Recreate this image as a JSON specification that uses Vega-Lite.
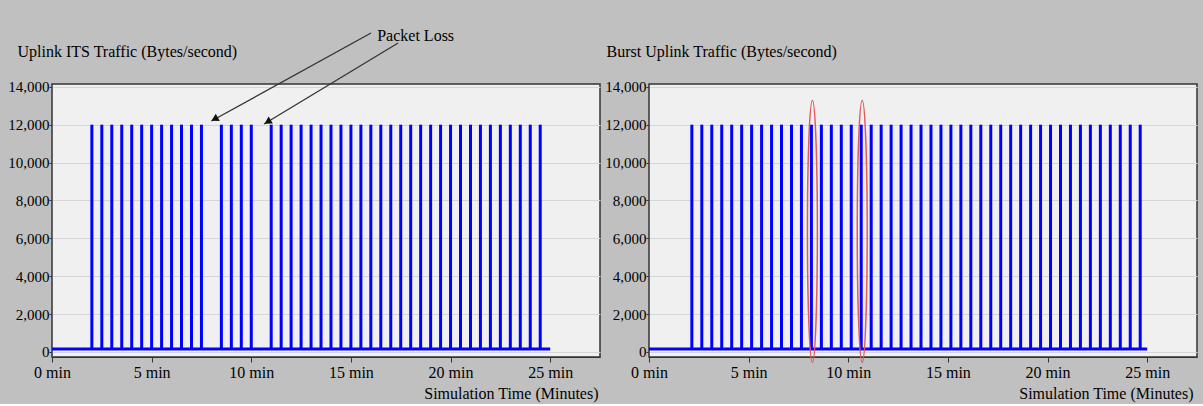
{
  "$schema": "https://vega.github.io/schema/vega-lite/v6.json",
  "autosize": {"type": "pad"},
  "padding": {"left": 7, "top": 27, "right": 6, "bottom": 2},
  "background": "#c0c0c0",
  "spacing": 49,
  "bounds": "flush",
  "config": {
    "font": "Liberation Serif",
    "view": {"fill": "#f0f0f0", "stroke": "#333333", "strokeWidth": 1.5},
    "axis": {
      "labelFont": "Liberation Serif",
      "titleFont": "Liberation Serif",
      "labelFontSize": 16,
      "titleFontSize": 16,
      "titleFontWeight": "normal",
      "labelColor": "#000000",
      "titleColor": "#000000",
      "tickColor": "#333333",
      "domainColor": "#333333",
      "labelOverlap": false
    }
  },
  "datasets": {
    "left": [
      {"t": 2, "v": 12000}, {"t": 2.5, "v": 12000}, {"t": 3, "v": 12000}, {"t": 3.5, "v": 12000},
      {"t": 4, "v": 12000}, {"t": 4.5, "v": 12000}, {"t": 5, "v": 12000}, {"t": 5.5, "v": 12000},
      {"t": 6, "v": 12000}, {"t": 6.5, "v": 12000}, {"t": 7, "v": 12000}, {"t": 7.5, "v": 12000},
      {"t": 8.5, "v": 12000}, {"t": 9, "v": 12000}, {"t": 9.5, "v": 12000}, {"t": 10, "v": 12000},
      {"t": 11, "v": 12000}, {"t": 11.5, "v": 12000}, {"t": 12, "v": 12000}, {"t": 12.5, "v": 12000},
      {"t": 13, "v": 12000}, {"t": 13.5, "v": 12000}, {"t": 14, "v": 12000}, {"t": 14.5, "v": 12000},
      {"t": 15, "v": 12000}, {"t": 15.5, "v": 12000}, {"t": 16, "v": 12000}, {"t": 16.5, "v": 12000},
      {"t": 17, "v": 12000}, {"t": 17.5, "v": 12000}, {"t": 18, "v": 12000}, {"t": 18.5, "v": 12000},
      {"t": 19, "v": 12000}, {"t": 19.5, "v": 12000}, {"t": 20, "v": 12000}, {"t": 20.5, "v": 12000},
      {"t": 21, "v": 12000}, {"t": 21.5, "v": 12000}, {"t": 22, "v": 12000}, {"t": 22.5, "v": 12000},
      {"t": 23, "v": 12000}, {"t": 23.5, "v": 12000}, {"t": 24, "v": 12000}, {"t": 24.5, "v": 12000}
    ],
    "right": [
      {"t": 2.15, "v": 12000}, {"t": 2.65, "v": 12000}, {"t": 3.15, "v": 12000}, {"t": 3.65, "v": 12000},
      {"t": 4.15, "v": 12000}, {"t": 4.65, "v": 12000}, {"t": 5.15, "v": 12000}, {"t": 5.65, "v": 12000},
      {"t": 6.15, "v": 12000}, {"t": 6.65, "v": 12000}, {"t": 7.15, "v": 12000}, {"t": 7.65, "v": 12000},
      {"t": 8.15, "v": 12000}, {"t": 8.65, "v": 12000}, {"t": 9.15, "v": 12000}, {"t": 9.65, "v": 12000},
      {"t": 10.15, "v": 12000}, {"t": 10.65, "v": 12000}, {"t": 11.15, "v": 12000}, {"t": 11.65, "v": 12000},
      {"t": 12.15, "v": 12000}, {"t": 12.65, "v": 12000}, {"t": 13.15, "v": 12000}, {"t": 13.65, "v": 12000},
      {"t": 14.15, "v": 12000}, {"t": 14.65, "v": 12000}, {"t": 15.15, "v": 12000}, {"t": 15.65, "v": 12000},
      {"t": 16.15, "v": 12000}, {"t": 16.65, "v": 12000}, {"t": 17.15, "v": 12000}, {"t": 17.65, "v": 12000},
      {"t": 18.15, "v": 12000}, {"t": 18.65, "v": 12000}, {"t": 19.15, "v": 12000}, {"t": 19.65, "v": 12000},
      {"t": 20.15, "v": 12000}, {"t": 20.65, "v": 12000}, {"t": 21.15, "v": 12000}, {"t": 21.65, "v": 12000},
      {"t": 22.15, "v": 12000}, {"t": 22.65, "v": 12000}, {"t": 23.15, "v": 12000}, {"t": 23.65, "v": 12000},
      {"t": 24.15, "v": 12000}, {"t": 24.65, "v": 12000}
    ],
    "baseline": [{"t": 0, "t2": 25, "v": 150}],
    "arrows": [
      {"t": 16.01, "v": 16844, "t2": 8.0, "v2": 12196},
      {"t": 17.37, "v": 16316, "t2": 10.64, "v2": 12037}
    ],
    "heads": [
      {"t": 8.16, "v": 12296, "a": 241},
      {"t": 10.82, "v": 12148, "a": 239}
    ],
    "label": [{"t": 16.32, "v": 16421, "text": "Packet Loss"}],
    "ellipses": [{"t": 8.2, "v": 6360}, {"t": 10.7, "v": 6360}]
  },
  "hconcat": [
    {
      "width": 548,
      "height": 273,
      "layer": [
        {
          "data": {"name": "left"},
          "mark": {"type": "rule", "color": "#0000ff", "strokeWidth": 3},
          "encoding": {
            "x": {
              "field": "t", "type": "quantitative",
              "scale": {"domain": [0, 27.5], "nice": false, "zero": false},
              "axis": {
                "values": [0, 5, 10, 15, 20, 25],
                "labelExpr": "datum.value + ' min'",
                "grid": false,
                "tickSize": 5,
                "labelPadding": 2,
                "labelFlush": false,
                "title": "Simulation Time (Minutes)",
                "titleX": 546, "titleY": 41,
                "titleAlign": "right", "titleBaseline": "alphabetic"
              }
            },
            "y": {
              "field": "v", "type": "quantitative",
              "scale": {"domain": [-270, 14150], "nice": false, "zero": false},
              "axis": {
                "values": [0, 2000, 4000, 6000, 8000, 10000, 12000, 14000],
                "tickCount": 8,
                "format": ",.0f",
                "grid": true, "gridColor": "#d6d6d6",
                "domain": false,
                "tickSize": 3,
                "labelPadding": 0,
                "labelFontSize": 15,
                "title": "Uplink ITS Traffic (Bytes/second)",
                "titleAngle": 0, "titleX": -35, "titleY": -28,
                "titleAlign": "left", "titleBaseline": "alphabetic"
              }
            },
            "y2": {"datum": 150}
          }
        },
        {
          "data": {"name": "baseline"},
          "mark": {"type": "rule", "color": "#0000ff", "strokeWidth": 3},
          "encoding": {
            "x": {"field": "t", "type": "quantitative"},
            "x2": {"field": "t2"},
            "y": {"field": "v", "type": "quantitative"}
          }
        },
        {
          "data": {"name": "arrows"},
          "mark": {"type": "rule", "color": "#333333", "strokeWidth": 1.3},
          "encoding": {
            "x": {"field": "t", "type": "quantitative"},
            "x2": {"field": "t2"},
            "y": {"field": "v", "type": "quantitative"},
            "y2": {"field": "v2"}
          }
        },
        {
          "data": {"name": "heads"},
          "mark": {"type": "point", "shape": "triangle-up", "filled": true, "color": "#111111", "opacity": 1, "size": 70},
          "encoding": {
            "x": {"field": "t", "type": "quantitative"},
            "y": {"field": "v", "type": "quantitative"},
            "angle": {"field": "a", "type": "quantitative", "scale": null}
          }
        },
        {
          "data": {"name": "label"},
          "mark": {"type": "text", "align": "left", "baseline": "alphabetic", "fontSize": 16, "color": "#000000", "font": "Liberation Serif"},
          "encoding": {
            "x": {"field": "t", "type": "quantitative"},
            "y": {"field": "v", "type": "quantitative"},
            "text": {"field": "text"}
          }
        }
      ]
    },
    {
      "width": 548,
      "height": 273,
      "layer": [
        {
          "data": {"name": "right"},
          "mark": {"type": "rule", "color": "#0000ff", "strokeWidth": 3},
          "encoding": {
            "x": {
              "field": "t", "type": "quantitative",
              "scale": {"domain": [0, 27.5], "nice": false, "zero": false},
              "axis": {
                "values": [0, 5, 10, 15, 20, 25],
                "labelExpr": "datum.value + ' min'",
                "grid": false,
                "tickSize": 5,
                "labelPadding": 2,
                "labelFlush": false,
                "title": "Simulation Time (Minutes)",
                "titleX": 544, "titleY": 41,
                "titleAlign": "right", "titleBaseline": "alphabetic"
              }
            },
            "y": {
              "field": "v", "type": "quantitative",
              "scale": {"domain": [-270, 14150], "nice": false, "zero": false},
              "axis": {
                "values": [0, 2000, 4000, 6000, 8000, 10000, 12000, 14000],
                "tickCount": 8,
                "format": ",.0f",
                "grid": true, "gridColor": "#d6d6d6",
                "domain": false,
                "tickSize": 3,
                "labelPadding": 0,
                "labelFontSize": 15,
                "title": "Burst Uplink Traffic (Bytes/second)",
                "titleAngle": 0, "titleX": -43, "titleY": -28,
                "titleAlign": "left", "titleBaseline": "alphabetic"
              }
            },
            "y2": {"datum": 150}
          }
        },
        {
          "data": {"name": "baseline"},
          "mark": {"type": "rule", "color": "#0000ff", "strokeWidth": 3},
          "encoding": {
            "x": {"field": "t", "type": "quantitative"},
            "x2": {"field": "t2"},
            "y": {"field": "v", "type": "quantitative"}
          }
        },
        {
          "data": {"name": "ellipses"},
          "mark": {
            "type": "point",
            "shape": "M0,-1C0.021,-1 0.038,-0.55 0.038,0C0.038,0.55 0.021,1 0,1C-0.021,1 -0.038,0.55 -0.038,0C-0.038,-0.55 -0.021,-1 0,-1Z",
            "filled": false,
            "color": "#e25a5a",
            "strokeWidth": 1.5,
            "opacity": 1,
            "size": 68644
          },
          "encoding": {
            "x": {"field": "t", "type": "quantitative"},
            "y": {"field": "v", "type": "quantitative"}
          }
        }
      ]
    }
  ]
}
